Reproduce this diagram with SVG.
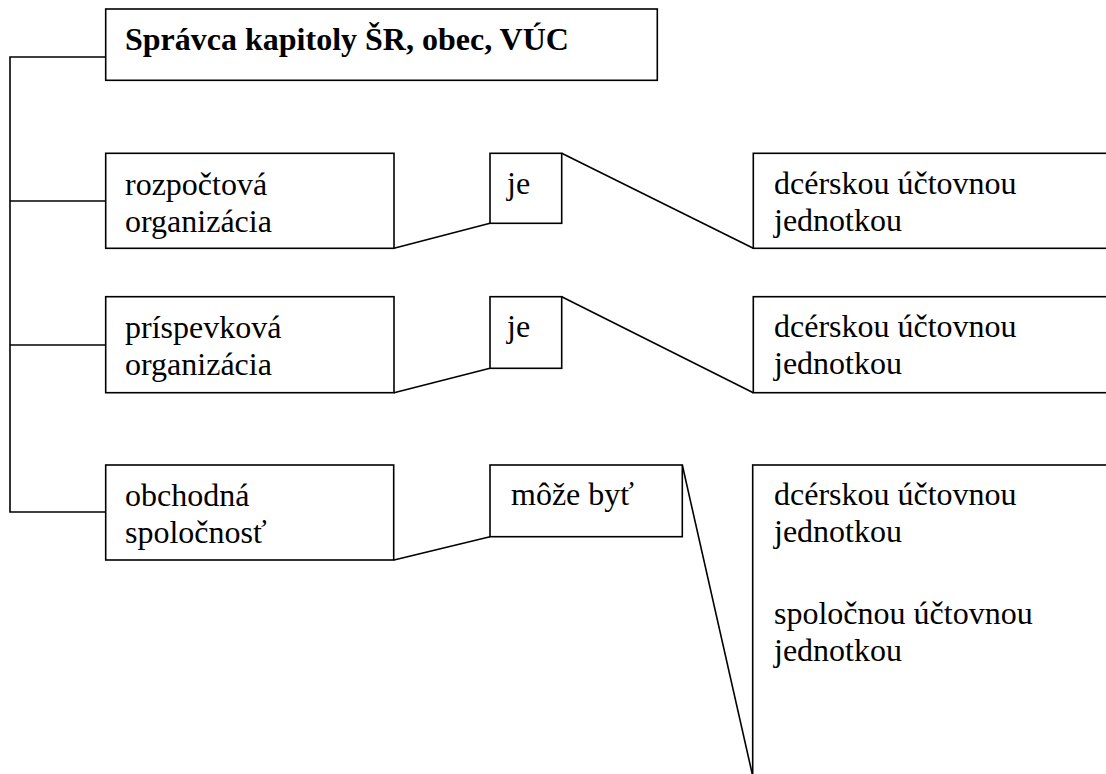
<svg xmlns="http://www.w3.org/2000/svg" width="1106" height="774" viewBox="0 0 1106 774">
<rect width="1106" height="774" fill="#fff"/>
<g id="connectors" fill="none" stroke="#000" stroke-width="1.6">
<polyline points="106,57 10,57 10,512 106,512"/>
<line x1="10" y1="201" x2="106" y2="201"/>
<line x1="10" y1="345" x2="106" y2="345"/>
<line x1="394" y1="248.3" x2="490" y2="223.3"/>
<line x1="561.7" y1="153.3" x2="753.3" y2="248.3"/>
<line x1="394" y1="392.7" x2="490" y2="368.3"/>
<line x1="561.7" y1="296.7" x2="753.3" y2="392.7"/>
<line x1="394" y1="560" x2="490" y2="536.7"/>
<line x1="682.3" y1="465" x2="752.7" y2="776"/>
</g>
<g id="spravca">
<rect x="105.7" y="9" width="551.6" height="71.3" fill="#fff" stroke="#000" stroke-width="1.6"/>
<text x="125" y="50" font-family="Liberation Serif" font-size="32" font-weight="bold">Správca kapitoly ŠR, obec, VÚC</text>
</g>
<g id="rozpoctova">
<rect x="105.7" y="153.3" width="288.3" height="95" fill="#fff" stroke="#000" stroke-width="1.6"/>
<text x="125" y="194.5" font-family="Liberation Serif" font-size="32">rozpočtová</text>
<text x="125" y="231.5" font-family="Liberation Serif" font-size="32">organizácia</text>
</g>
<g id="je1">
<rect x="490" y="153.3" width="71.7" height="70" fill="#fff" stroke="#000" stroke-width="1.6"/>
<text x="507" y="193.5" font-family="Liberation Serif" font-size="32">je</text>
</g>
<g id="dcerska1">
<rect x="753.3" y="153.3" width="380" height="95" fill="#fff" stroke="#000" stroke-width="1.6"/>
<text x="774" y="193.5" font-family="Liberation Serif" font-size="32">dcérskou účtovnou</text>
<text x="774" y="230.5" font-family="Liberation Serif" font-size="32">jednotkou</text>
</g>
<g id="prispevkova">
<rect x="105.7" y="296.7" width="288.3" height="96" fill="#fff" stroke="#000" stroke-width="1.6"/>
<text x="125" y="338" font-family="Liberation Serif" font-size="32">príspevková</text>
<text x="125" y="375" font-family="Liberation Serif" font-size="32">organizácia</text>
</g>
<g id="je2">
<rect x="490" y="296.7" width="71.7" height="71.6" fill="#fff" stroke="#000" stroke-width="1.6"/>
<text x="507" y="337" font-family="Liberation Serif" font-size="32">je</text>
</g>
<g id="dcerska2">
<rect x="753.3" y="296.7" width="380" height="96" fill="#fff" stroke="#000" stroke-width="1.6"/>
<text x="774" y="337" font-family="Liberation Serif" font-size="32">dcérskou účtovnou</text>
<text x="774" y="374" font-family="Liberation Serif" font-size="32">jednotkou</text>
</g>
<g id="obchodna">
<rect x="105.7" y="465" width="288" height="95" fill="#fff" stroke="#000" stroke-width="1.6"/>
<text x="125" y="506" font-family="Liberation Serif" font-size="32">obchodná</text>
<text x="125" y="543" font-family="Liberation Serif" font-size="32">spoločnosť</text>
</g>
<g id="moze">
<rect x="490" y="465" width="192.3" height="71.7" fill="#fff" stroke="#000" stroke-width="1.6"/>
<text x="511" y="505" font-family="Liberation Serif" font-size="32">môže byť</text>
</g>
<g id="moznosti">
<rect x="752.7" y="465" width="380" height="330" fill="#fff" stroke="#000" stroke-width="1.6"/>
<text x="774" y="505" font-family="Liberation Serif" font-size="32">dcérskou účtovnou</text>
<text x="774" y="542" font-family="Liberation Serif" font-size="32">jednotkou</text>
<text x="774" y="624" font-family="Liberation Serif" font-size="32">spoločnou účtovnou</text>
<text x="774" y="661" font-family="Liberation Serif" font-size="32">jednotkou</text>
</g>
</svg>
